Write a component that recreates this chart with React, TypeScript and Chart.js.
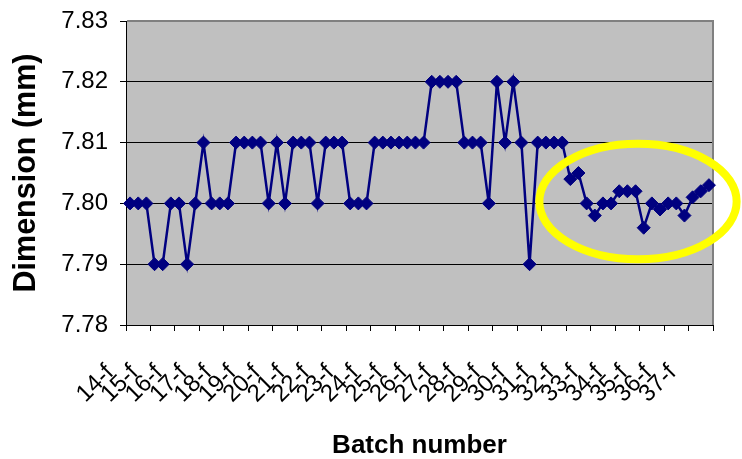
import React, { useEffect, useRef } from 'react';
import { Chart, registerables } from 'chart.js';

Chart.register(...registerables);

// ---- data ----
const batchLabels = [
  '14-f', '15-f', '16-f', '17-f', '18-f', '19-f', '20-f', '21-f',
  '22-f', '23-f', '24-f', '25-f', '26-f', '27-f', '28-f', '29-f',
  '30-f', '31-f', '32-f', '33-f', '34-f', '35-f', '36-f', '37-f',
];
const samplesPerBatch = 3;

const dimensions = [
  7.80, 7.80, 7.80, 7.79, 7.79, 7.80, 7.80, 7.79, 7.80, 7.81,
  7.80, 7.80, 7.80, 7.81, 7.81, 7.81, 7.81, 7.80, 7.81, 7.80,
  7.81, 7.81, 7.81, 7.80, 7.81, 7.81, 7.81, 7.80, 7.80, 7.80,
  7.81, 7.81, 7.81, 7.81, 7.81, 7.81, 7.81, 7.82, 7.82, 7.82,
  7.82, 7.81, 7.81, 7.81, 7.80, 7.82, 7.81, 7.82, 7.81, 7.79,
  7.81, 7.81, 7.81, 7.81, 7.804, 7.805, 7.800, 7.798, 7.800, 7.800,
  7.802, 7.802, 7.802, 7.796, 7.800, 7.799, 7.800, 7.800, 7.798, 7.801,
  7.802, 7.803,
];

const yTickValues = [7.78, 7.79, 7.80, 7.81, 7.82, 7.83];

// highlighted region (in data units: category index / dimension)
const highlightCenterIndex = 62.3;
const highlightCenterValue = 7.8003;
const highlightHalfWidthCats = 12.1;
const highlightHalfHeightValue = 0.0095;

const categories = dimensions.map((_, i) =>
  i % samplesPerBatch === 0 ? batchLabels[i / samplesPerBatch] : ''
);

const FONT = '"Liberation Sans", Arial, sans-serif';

const plotFrame = {
  id: 'plotFrame',
  beforeDraw(chart: any) {
    const { ctx, chartArea: a } = chart;
    ctx.save();
    ctx.fillStyle = '#C0C0C0';
    ctx.fillRect(a.left, a.top, a.right - a.left, a.bottom - a.top);
    ctx.restore();
  },
  beforeDatasetsDraw(chart: any) {
    const { ctx, chartArea: a } = chart;
    ctx.save();
    ctx.strokeStyle = '#808080';
    ctx.lineWidth = 2;
    ctx.beginPath();
    ctx.moveTo(a.left + 1, a.top);
    ctx.lineTo(a.right, a.top);
    ctx.lineTo(a.right, a.bottom);
    ctx.stroke();
    ctx.restore();
  },
  afterDraw(chart: any) {
    const { ctx } = chart;
    const xs = chart.scales.x;
    const ys = chart.scales.y;
    const cx = xs.getPixelForValue(highlightCenterIndex);
    const cy = ys.getPixelForValue(highlightCenterValue);
    const rx = xs.getPixelForValue(highlightCenterIndex + highlightHalfWidthCats) - cx;
    const ry = ys.getPixelForValue(highlightCenterValue - highlightHalfHeightValue) - cy;
    ctx.save();
    ctx.strokeStyle = '#FFFF00';
    ctx.lineWidth = 8;
    ctx.beginPath();
    ctx.ellipse(cx, cy, Math.abs(rx), Math.abs(ry), 0, 0, Math.PI * 2);
    ctx.stroke();
    ctx.restore();
  },
};

export default function App() {
  const ref = useRef<HTMLCanvasElement | null>(null);

  useEffect(() => {
    if (!ref.current) return;
    const chart = new Chart(ref.current, {
      type: 'line',
      data: {
        labels: categories,
        datasets: [
          {
            data: dimensions,
            borderColor: '#000080',
            backgroundColor: '#000080',
            borderWidth: 2.5,
            pointStyle: 'rectRot',
            pointRadius: 6.5,
            pointBorderWidth: 1,
            pointBackgroundColor: '#000080',
            pointBorderColor: '#000080',
            tension: 0,
            fill: false,
          },
        ],
      },
      options: {
        animation: false,
        responsive: true,
        maintainAspectRatio: false,
        layout: { padding: { left: 0, right: 29, top: 21, bottom: 0 } },
        plugins: {
          legend: { display: false },
          tooltip: { enabled: false },
        },
        scales: {
          x: {
            type: 'category',
            offset: true,
            grid: {
              offset: true,
              drawOnChartArea: false,
              tickLength: 6,
              tickWidth: 1,
              tickColor: (c: any) =>
                c.index === undefined || c.index % samplesPerBatch === 0
                  ? '#000000'
                  : 'rgba(0,0,0,0)',
            },
            border: { color: '#000000', width: 1 },
            ticks: {
              autoSkip: false,
              minRotation: 45,
              maxRotation: 45,
              labelOffset: -20,
              padding: 28,
              color: '#000000',
              font: { family: FONT, size: 24 },
            },
            title: {
              display: true,
              text: 'Batch number',
              color: '#000000',
              font: { family: FONT, size: 26, weight: 'bold', lineHeight: 1 },
              padding: { top: 0, bottom: 0 },
            },
            afterFit: (s: any) => {
              s.height = 134;
              s.paddingLeft = 0;
              s.paddingRight = 0;
            },
          } as any,
          y: {
            min: yTickValues[0],
            max: yTickValues[yTickValues.length - 1],
            afterBuildTicks: (s: any) => {
              s.ticks = yTickValues.map((v) => ({ value: v }));
            },
            grid: {
              color: (c: any) =>
                c.tick && c.tick.value >= yTickValues[yTickValues.length - 1] - 1e-9
                  ? 'rgba(0,0,0,0)'
                  : '#000000',
              tickColor: '#000000',
              tickLength: 6,
              lineWidth: 1,
            },
            border: { color: '#000000', width: 1 },
            ticks: {
              padding: 12,
              color: '#000000',
              font: { family: FONT, size: 24 },
              callback: (v: any) => Number(v).toFixed(2),
            },
            title: {
              display: true,
              text: 'Dimension (mm)',
              color: '#000000',
              font: { family: FONT, size: 30.5, weight: 'bold', lineHeight: 1 },
              padding: { top: 11, bottom: 0 },
            },
            afterFit: (s: any) => {
              s.width = 126;
              s.paddingTop = 0;
              s.paddingBottom = 0;
            },
          } as any,
        },
      },
      plugins: [plotFrame],
    });
    return () => chart.destroy();
  }, []);

  return (
    <div
      style={{
        position: 'fixed',
        left: 0,
        top: 0,
        width: 742,
        height: 459,
        background: '#ffffff',
      }}
    >
      <canvas ref={ref} />
    </div>
  );
}
